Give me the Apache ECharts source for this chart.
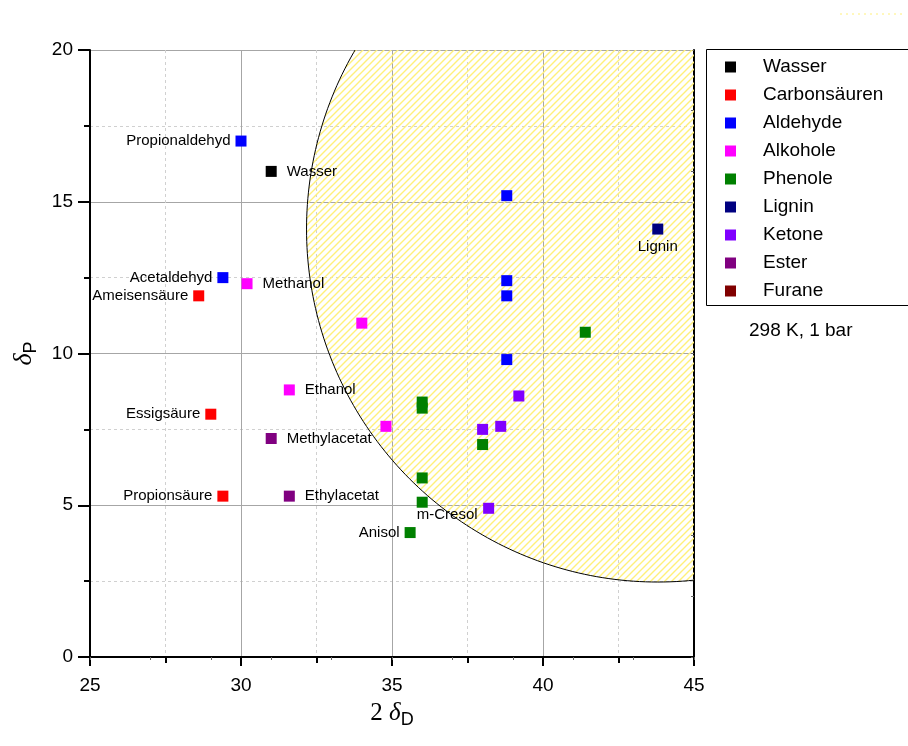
<!DOCTYPE html>
<html><head><meta charset="utf-8">
<script src="https://cdn.jsdelivr.net/npm/echarts@6/dist/echarts.min.js"></script>
<style>html,body{margin:0;padding:0;background:#fff}#c{width:908px;height:746px}</style>
</head><body><div id="c"></div>
<script>
// ---- data ----
const seriesNames = ['Wasser','Carbonsäuren','Aldehyde','Alkohole','Phenole','Lignin','Ketone','Ester','Furane'];
const wasser = [[31.0,16.0,'Wasser']];
const carbonsaeuren = [[28.6,11.9,'Ameisensäure'],[29.0,8.0,'Essigsäure'],[29.4,5.3,'Propionsäure']];
const aldehyde = [[30.0,17.0,'Propionaldehyd'],[29.4,12.5,'Acetaldehyd'],[38.8,15.2,''],[38.8,12.4,''],[38.8,11.9,''],[38.8,9.8,'']];
const alkohole = [[30.2,12.3,'Methanol'],[31.6,8.8,'Ethanol'],[34.0,11.0,''],[34.8,7.6,'']];
const phenole = [[41.4,10.7,''],[36.0,8.4,''],[36.0,8.2,''],[38.0,7.0,''],[36.0,5.9,''],[36.0,5.1,'m-Cresol'],[35.6,4.1,'Anisol']];
const lignin = [[43.8,14.1,'Lignin']];
const ketone = [[39.2,8.6,''],[38.0,7.5,''],[38.6,7.6,''],[38.2,4.9,'']];
const ester = [[31.0,7.2,'Methylacetat'],[31.6,5.3,'Ethylacetat']];
const furane = [];
const seriesData = [wasser,carbonsaeuren,aldehyde,alkohole,phenole,lignin,ketone,ester,furane];
const hansenCenter = [43.8,14.1];
const hansenRadius = 11.63;
const xTicks = [25,30,35,40,45];
const yTicks = [0,5,10,15,20];
const conditionText = '298 K, 1 bar';

// ---- styles ----
const colors = ['#000000','#ff0000','#0000ff','#ff00ff','#008000','#000080','#8000ff','#800080','#800000'];
const labelStyle = {
  'Wasser':{position:'right',distance:10},
  'Ameisensäure':{position:'left',distance:5},
  'Essigsäure':{position:'left',distance:5},
  'Propionsäure':{position:'left',distance:5},
  'Propionaldehyd':{position:'left',distance:5},
  'Acetaldehyd':{position:'left',distance:5},
  'Methanol':{position:'right',distance:10},
  'Ethanol':{position:'right',distance:10},
  'm-Cresol':{position:'bottom',distance:2,offset:[25,-2]},
  'Anisol':{position:'left',distance:5},
  'Lignin':{position:'bottom',distance:5},
  'Methylacetat':{position:'right',distance:10},
  'Ethylacetat':{position:'right',distance:10}
};

// hatch pattern (transparent background so grid lines show through)
const P = 7;
const pc = document.createElement('canvas');
pc.width = P; pc.height = P;
const g = pc.getContext('2d');
g.strokeStyle = '#fff07a'; g.lineWidth = 1.4;
g.beginPath();
g.moveTo(-1,P+1); g.lineTo(P+1,-1);
g.moveTo(-1,1); g.lineTo(1,-1);
g.moveTo(P-1,P+1); g.lineTo(P+1,P-1);
g.stroke();

const chart = echarts.init(document.getElementById('c'), null, {renderer:'canvas'});

const scatterSeries = seriesNames.map((n,i)=>({
  name:n, type:'scatter', xAxisIndex:0, yAxisIndex:0,
  symbol:'rect', symbolSize:11, z:5,
  itemStyle:{color:colors[i], opacity:1},
  data: seriesData[i].map(p=>{
    const ls = labelStyle[p[2]];
    const item = {value:[p[0],p[1]], name:p[2]};
    if (ls && p[2]) {
      item.label = Object.assign({show:true, formatter:p[2], color:'#000', fontSize:15, fontFamily:'Liberation Sans, Arial, sans-serif'}, ls);
    }
    return item;
  })
}));

const circleSeries = {
  type:'custom', xAxisIndex:0, yAxisIndex:0, clip:true, silent:true, z:1,
  data:[[hansenCenter[0],hansenCenter[1],hansenRadius]],
  renderItem:(params, api)=>{
    const cx = api.value(0), cy = api.value(1), r = api.value(2);
    const pts = [];
    for (let k=0;k<=360;k++){
      const a = k*Math.PI/180;
      pts.push(api.coord([cx + r*Math.cos(a), cy + r*Math.sin(a)]));
    }
    return {type:'polygon', shape:{points:pts}, style:{fill:{image:pc, repeat:'repeat'}, stroke:'#000', lineWidth:1}};
  }
};

const axisFont = {fontSize:19, color:'#000', fontFamily:'Liberation Sans, Arial, sans-serif'};

chart.setOption({
  animation:false,
  backgroundColor:'#fff',
  grid:{left:90, top:50, width:604, height:607, containLabel:false},
  xAxis:[{
    type:'value', min:25, max:45, interval:5, position:'bottom',
    name:'{n|2 }{d|δ}{s|D}', nameLocation:'middle', nameGap:40,
    nameTextStyle:{rich:{
      n:{fontSize:25, fontFamily:'Liberation Serif, Times New Roman, serif', color:'#000'},
      d:{fontSize:25, fontStyle:'italic', fontFamily:'Liberation Serif, Times New Roman, serif', color:'#000'},
      s:{fontSize:18, fontFamily:'Liberation Sans, Arial, sans-serif', color:'#000', padding:[14,0,0,0]}
    }},
    axisLine:{show:true, onZero:false, lineStyle:{color:'#000', width:2}},
    axisTick:{show:true, length:9, lineStyle:{color:'#000', width:2}},
    minorTick:{show:true, splitNumber:2, length:6, lineStyle:{color:'#000', width:2}},
    axisLabel:Object.assign({margin:19, formatter:v=>xTicks.includes(v)?String(v):''}, axisFont),
    splitLine:{show:true, lineStyle:{color:'#a6a6a6', width:1}},
    minorSplitLine:{show:true, lineStyle:{color:'#d0d0d0', width:1, type:[3,3]}}
  },{
    type:'value', min:25, max:45, interval:2, position:'top',
    axisLine:{show:true, lineStyle:{color:'#000', width:2}},
    axisTick:{show:true, inside:true, length:3, lineStyle:{color:'#666', width:1}},
    axisLabel:{show:false}, splitLine:{show:false}
  }],
  yAxis:[{
    type:'value', min:0, max:20, interval:5, position:'left',
    name:'{d|δ}{s|P}', nameLocation:'middle', nameGap:50, nameRotate:90,
    nameTextStyle:{rich:{
      d:{fontSize:26, fontStyle:'italic', fontFamily:'Liberation Serif, Times New Roman, serif', color:'#000'},
      s:{fontSize:18, fontFamily:'Liberation Sans, Arial, sans-serif', color:'#000', padding:[14,0,0,0]}
    }},
    axisLine:{show:true, onZero:false, lineStyle:{color:'#000', width:2}},
    axisTick:{show:true, length:12, lineStyle:{color:'#000', width:2}},
    minorTick:{show:true, splitNumber:2, length:6, lineStyle:{color:'#000', width:2}},
    axisLabel:Object.assign({margin:17, formatter:v=>yTicks.includes(v)?String(v):''}, axisFont),
    splitLine:{show:true, lineStyle:{color:'#a6a6a6', width:1}},
    minorSplitLine:{show:true, lineStyle:{color:'#d0d0d0', width:1, type:[3,3]}}
  },{
    type:'value', min:0, max:20, interval:2, position:'right',
    axisLine:{show:true, lineStyle:{color:'#000', width:2}},
    axisTick:{show:true, inside:true, length:3, lineStyle:{color:'#666', width:1}},
    axisLabel:{show:false}, splitLine:{show:false}
  }],
  legend:{
    show:true, orient:'vertical', left:725, top:57, padding:0,
    itemWidth:11, itemHeight:11, itemGap:8, icon:'rect',
    data:seriesNames,
    textStyle:{fontSize:19, lineHeight:20, color:'#000', fontFamily:'Liberation Sans, Arial, sans-serif', padding:[0,0,0,22]}
  },
  graphic:[
    {type:'rect', left:704, top:47, shape:{width:260, height:256}, style:{fill:'none', stroke:'#000', lineWidth:1}, z:0},
    {type:'text', left:749, top:321, style:{text:conditionText, fontSize:19, fill:'#000', fontFamily:'Liberation Sans, Arial, sans-serif'}},
    {type:'line', shape:{x1:840, y1:14, x2:905, y2:14}, style:{stroke:'#fff07a', lineWidth:1, lineDash:[2,4]}}
  ],
  series:[circleSeries].concat(scatterSeries)
});
</script>
</body></html>
